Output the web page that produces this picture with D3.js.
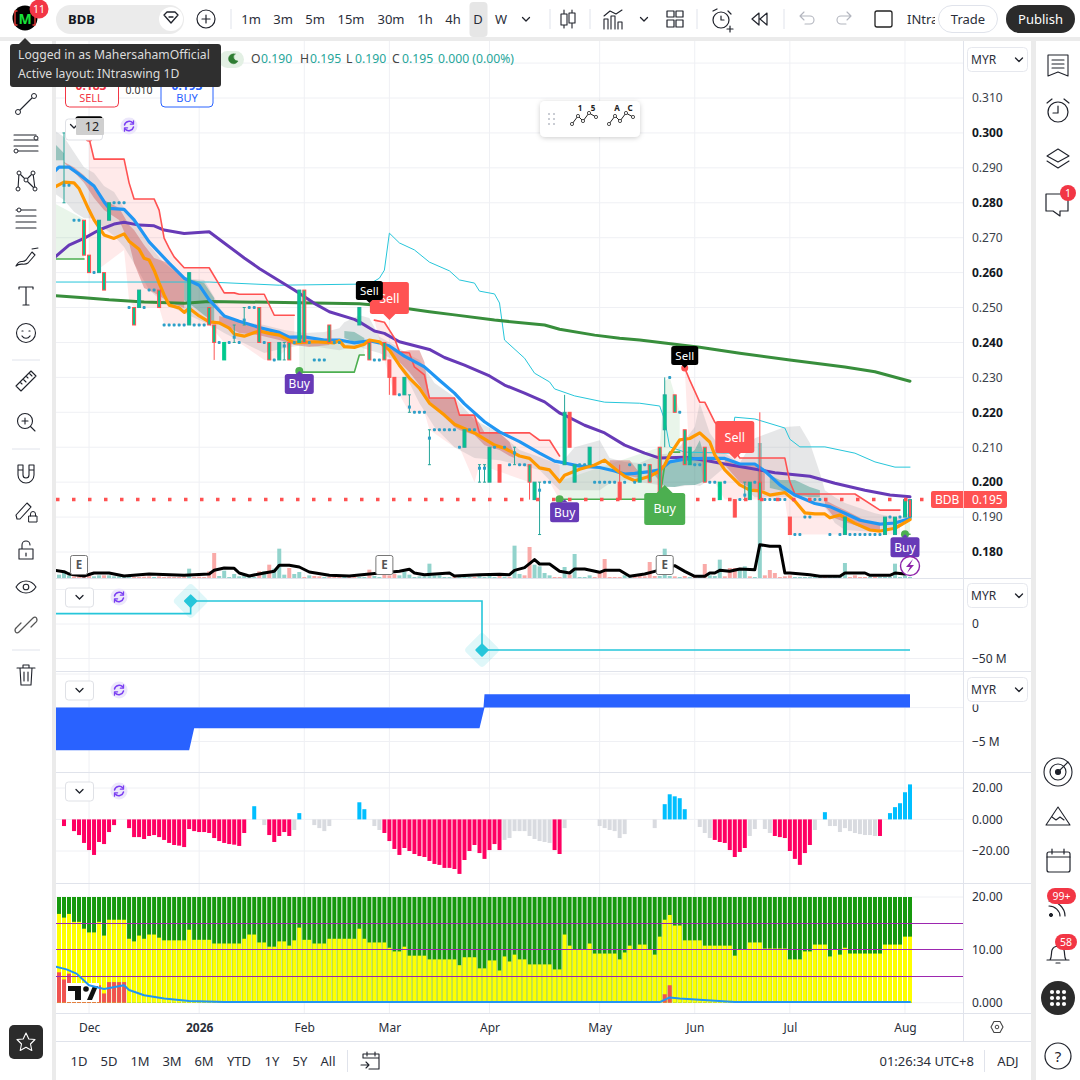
<!DOCTYPE html>
<html>
<head>
<meta charset="utf-8">
<script src="https://cdn.jsdelivr.net/npm/d3@7"></script>
<style>
  html, body { margin: 0; padding: 0; background: #fff; }
  svg { display: block; font-family: "Noto Sans", sans-serif; }
</style>
</head>
<body>
<svg id="chart" width="1080" height="1080"></svg>
<script>
// ---- price candles (bar index counts from the first visible bar)
const candleBars = [1,5,6,8,9,10,15,16,20,26,30,31,33,35,37,40,42,44,45,46,48,49,54,60,62,65,66,67,69,70,74,81,84,85,86,88,91,94,95,96,101,102,103,106,112,116,118,120,121,123,125,126,129,132,135,137,138,140,146,157,165,167,169,170];
const candleOpen = [.285,.275,.265,.26,.26,.275,.25,.25,.255,.245,.25,.245,.235,.2415,.2464,.25,.24,.235,.239,.24,.24,.255,.245,.245,.24,.24,.235,.23,.225,.2215,.2126,.21,.204,.204,.2,.205,.2084,.205,.195,.1977,.205,.22,.2,.205,.2,.2,.205,.21,.215,.225,.215,.205,.21,.195,.195,.1963,.195,.2,.19,.185,.185,.185,.19,.19];
const candleHigh = [.30,.275,.265,.275,.26,.28,.25,.255,.255,.26,.25,.245,.24,.245,.25,.25,.24,.24,.24,.24,.255,.255,.245,.25,.24,.24,.235,.23,.23,.225,.215,.215,.205,.205,.21,.205,.21,.205,.2,.2,.225,.22,.205,.21,.205,.205,.205,.21,.23,.225,.215,.21,.21,.2,.195,.2,.2,.22,.19,.19,.19,.19,.195,.195];
const candleLow = [.28,.265,.26,.26,.255,.275,.245,.25,.25,.245,.245,.235,.235,.24,.245,.24,.235,.235,.235,.235,.24,.24,.24,.245,.235,.235,.225,.225,.225,.22,.205,.21,.2,.2,.2,.2,.205,.195,.195,.185,.205,.21,.2,.205,.195,.2,.2,.195,.21,.22,.205,.205,.2,.195,.19,.195,.195,.195,.185,.185,.185,.185,.19,.19];
const candleClose = [.285,.265,.26,.275,.255,.28,.245,.255,.25,.26,.245,.24,.24,.2415,.2464,.24,.235,.24,.239,.235,.255,.24,.24,.25,.235,.235,.23,.225,.23,.2215,.2126,.215,.204,.204,.21,.2,.2084,.2,.2,.1977,.22,.21,.205,.21,.195,.205,.2,.195,.225,.22,.205,.21,.2,.2,.19,.1963,.2,.195,.185,.19,.19,.19,.195,.195];
const redFillBars = [66,67,88,102,112,135,146,170];
const greenSolidBars = [33,132];

// ---- flat days, only a dot at the price
const dotBars = [2,3,4,7,11,12,13,14,17,18,19,21,22,23,24,25,27,28,29,32,34,36,38,39,41,43,47,50,51,52,53,55,56,63,64,68,71,72,73,75,76,77,78,79,80,82,83,87,89,90,92,93,97,98,100,104,105,107,108,109,110,111,113,114,115,117,119,122,124,127,128,130,131,133,134,136,139,141,142,143,144,145,147,148,149,150,151,152,154,156,158,159,160,161,162,163,164,166,168];
const dotPrices = [.285,.275,.275,.26,.28,.28,.28,.25,.25,.255,.255,.245,.245,.245,.245,.245,.245,.245,.245,.24,.24,.24,.25,.25,.24,.235,.24,.24,.235,.235,.235,.24,.24,.235,.235,.225,.22,.22,.22,.215,.215,.215,.215,.215,.21,.215,.215,.21,.21,.205,.205,.205,.2,.2,.195,.205,.205,.2,.2,.2,.2,.2,.2,.205,.2,.205,.195,.23,.22,.205,.205,.2,.2,.2,.195,.195,.2,.195,.195,.195,.195,.195,.185,.185,.19,.19,.195,.195,.185,.185,.185,.185,.185,.185,.185,.185,.185,.19,.19];

// ---- moving averages
const blueBars = [-1,0,2,4,7,9,10,13,15,18,22,25,28,30,33,36,40,44,46,49,53,56,59,62,64,66,69,73,76,79,81,85,88,92,96,99,101,104,108,111,113,115,118,120,122,125,129,133,136,139,141,144,147,151,154,157,160,164,167,170];
const bluePrice = [.2888,.2902,.2902,.2882,.2848,.2803,.2784,.2781,.2751,.2688,.2627,.2584,.2564,.2522,.2476,.2461,.2443,.2429,.2415,.2416,.2407,.2407,.2399,.2405,.2399,.239,.2361,.233,.2292,.2255,.2224,.2173,.2144,.2116,.2083,.206,.2055,.2046,.2042,.2032,.2023,.2025,.203,.2035,.2058,.2066,.2068,.2068,.2052,.2052,.2032,.1992,.1963,.1939,.193,.1911,.1891,.188,.1883,.1896];
const orangeBars = [-1,1,3,4,6,7,9,11,13,14,16,17,18,19,20,21,22,24,25,26,28,30,32,34,35,37,40,42,44,47,51,55,56,57,59,61,62,64,66,68,70,72,74,77,79,83,87,89,92,94,96,98,100,101,104,107,109,111,113,115,118,120,121,122,124,126,128,130,131,133,136,138,140,142,145,147,149,151,153,154,156,159,162,164,167,170];
const orangePrice = [.2844,.2859,.2857,.2841,.2779,.2751,.2708,.2698,.2711,.269,.2667,.2641,.2636,.2607,.257,.2536,.2507,.2499,.2486,.2498,.2476,.2459,.2456,.2441,.2424,.2418,.2433,.2426,.2421,.2399,.2402,.2399,.2405,.2388,.2386,.2395,.2407,.2402,.2378,.2335,.2298,.2269,.2226,.2192,.2166,.2141,.2106,.2097,.2075,.2068,.2041,.2035,.2001,.202,.2037,.2049,.2063,.2039,.2017,.2004,.2017,.2032,.2049,.2078,.2121,.2125,.2141,.2115,.2078,.2035,.1992,.1977,.1975,.1963,.197,.1946,.1912,.1909,.1909,.1898,.1906,.1882,.1863,.186,.1868,.1893];
const purpleBars = [-1,2,5,8,11,13,16,19,21,25,30,33,37,40,43,47,51,54,59,60,63,65,68,74,77,81,86,89,93,97,100,101,105,109,113,117,120,125,129,133,138,143,150,155,161,166,170];
const purplePrice = [.2642,.2679,.2698,.2722,.2739,.2744,.2736,.2734,.2722,.2712,.2717,.2685,.2642,.2612,.2585,.255,.2512,.2488,.2466,.2459,.2433,.2426,.2402,.238,.2357,.2335,.2304,.2278,.2255,.223,.2198,.2192,.2163,.2141,.2106,.2083,.2069,.2071,.2063,.2052,.204,.2027,.2017,.1997,.1977,.1963,.1958];
const maBars = [-1,5,10,17,25,30,48,60,67,74,79,87,97,100,107,112,116,123,128,136,146,157,163,170];
const maPrice = [.2534,.2528,.2522,.2516,.2512,.2517,.2514,.2511,.2502,.2488,.2479,.2464,.245,.2438,.2421,.2412,.2407,.2395,.2386,.2369,.235,.233,.2316,.2289];
const cyanBars = [-1,30,44,60,62,64,65,66,68,71,74,78,80,83,84,87,88,89,93,95,98,99,103,109,116,120,121,122,125,134,135,139,145,146,148,153,159,163,167,170];
const cyanPrice = [.2573,.2573,.2564,.2567,.2567,.2584,.2607,.2713,.2685,.2665,.263,.2605,.2579,.257,.2547,.2539,.2513,.2407,.2355,.2312,.2287,.2267,.2247,.2229,.2226,.2218,.2178,.2101,.2086,.2083,.2186,.2181,.2155,.2123,.2101,.2101,.2083,.2058,.2043,.2043];

// ---- trailing stops, null breaks the line
const redBars = [6,7,13,14,15,19,20,21,22,23,25,30,33,35,36,41,43,47,null,63,65,67,68,70,71,73,74,79,80,83,84,94,96,98,100,null,125,126,128,129,131,133,135,136,145,146,147,159,164,168];
const redPrice = [.2985,.2925,.2925,.2857,.2811,.2811,.2779,.2699,.267,.2645,.2614,.2614,.2542,.2542,.2538,.2538,.2478,.2478,null,.2464,.2458,.2413,.2373,.237,.233,.2307,.2241,.2241,.2192,.2192,.2141,.2141,.212,.212,.2075,null,.2327,.2292,.2229,.2229,.2172,.2141,.2092,.2069,.2069,.2001,.1966,.1966,.192,.192];
const redLow = [.26,.26,.2665,.2521,.25,.25,.25,.2453,.2453,.2453,.245,.245,.24,.24,.24,.235,.235,.24,null,.2464,.235,.225,.225,.22,.22,.22,.215,.21,.21,.2,.205,.2,.2,.2,.195,null,.2327,.205,.205,.2,.2,.195,.195,.195,.195,.185,.185,.185,.185,.185];
const stopBars = [-1,5,null,48,59,60,61,null,100,120,121,122,124,null,169,170];
const stopPrice = [.2639,.2639,null,.2315,.2315,.2364,.2364,null,.1951,.1951,.2049,.2086,.2086,null,.1851,.1851];
const stopHigh = [.2799,.2753,null,.2399,.2401,.2401,.2401,null,.2003,.21,.229,.23,.22,null,.195,.195];

// ---- clouds round the averages
const greyBars = [-1,1,3,5,7,9,11,13,15,18,21,25,29,31,33,37,41,45,49,53,56,57,60,62,64,67,70,72,75,79,83,88,92,96,100,103,108,110,113,116,120,123,127,128,130,133,136,139,145,148,150,152,153,155,157,163,168,170];
const greyTop = [.3008,.2988,.2945,.2902,.2885,.2848,.2831,.2785,.2745,.2679,.2627,.2584,.2579,.253,.2476,.2458,.245,.2436,.2427,.243,.2441,.2458,.2478,.247,.2416,.2393,.2364,.235,.2284,.2244,.2178,.2141,.2092,.2072,.2049,.21,.212,.2069,.2058,.2055,.208,.2083,.2158,.2226,.2141,.2083,.2055,.2126,.2158,.2161,.2112,.2026,.1977,.1957,.194,.1911,.1897,.1914];
const greyBot = [.2828,.2808,.2774,.2756,.2756,.2728,.2705,.2673,.2627,.255,.2513,.2484,.2458,.2444,.2427,.2398,.237,.2384,.2393,.2384,.2378,.2381,.2387,.2378,.237,.235,.2284,.2226,.2158,.21,.2069,.2063,.2049,.2035,.1977,.1977,.1977,.1997,.2006,.2,.1992,.1986,.1992,.1989,.2006,.2043,.1997,.1957,.1957,.1957,.1951,.1934,.1929,.1883,.1863,.1857,.1871,.1891];
const dropBars = [1,3,5,7,9,12,14,15,17,19,22,25,null,32,36,40,44,47,50,54,null,66,68,70,72,73,74,77,79,80,83,85,88,90,91,null,110,112,114,116,null,133,136,139,141,null,153,155,157,161,164];
const dropTop = [.2917,.2902,.2879,.2845,.2808,.2785,.2736,.2722,.2679,.2642,.2627,.2584,null,.2476,.2461,.2444,.2427,.2413,.2413,.2407,null,.2393,.2373,.2378,.2378,.2344,.2241,.2241,.2241,.2192,.2192,.2143,.2141,.2115,.2078,null,.2063,.2063,.2063,.2026,null,.2069,.2052,.2049,.2029,null,.1949,.1934,.192,.1891,.188];
const dropBot = [.2914,.2888,.2857,.2814,.2779,.2751,.2685,.2627,.2556,.2542,.2516,.2499,null,.2458,.2427,.2421,.2407,.2393,.2387,.2393,null,.2378,.2344,.2315,.2278,.2255,.2226,.2186,.2158,.2149,.2135,.2106,.2092,.2075,.2069,null,.2049,.2026,.2017,.2012,null,.2049,.2,.1977,.1977,null,.1932,.1897,.1886,.1868,.1863];
const riseBars = [-1,1,null,25,27,29,31,null,57,59,61,null,119,121,123,125,127,128,129,null,142,144,147,150,152];
const riseTop = [.2971,.2942,null,.2579,.2579,.257,.2527,null,.2433,.243,.2413,null,.2026,.2049,.2063,.2069,.2092,.212,.2069,null,.202,.2006,.2006,.1986,.1977];
const riseBot = [.2922,.2922,null,.2521,.2501,.2478,.2458,null,.2413,.2401,.2401,null,.202,.1986,.1986,.1992,.1992,.1997,.2003,null,.1983,.1977,.1963,.1957,.1957];

// ---- signal labels, drawn in this order (the black ones sit on top)
const signalBars = [66,135,48,101,169,121,6,62,125];
const signalPrices = [.2464,.2066,.2318,.1951,.1851,.1992,.2985,.2513,.2327];
const signalText = ["Sell","Sell","Buy","Buy","Buy","Buy","","Sell","Sell"];
const signalStyle = ["redBig","redBig","purple","purple","purple","greenBig","black","black","black"];
const sellDotBars = [6,125];
const sellDotPrices = [.2985,.2327];
const buyDotBars = [48,100,121,169];
const buyDotPrices = [.2318,.1951,.1951,.1851];
const earningsBars = [4,65,121];

// ---- volume
const volume = [10,15,8,5,5,5,8,5,8,8,8,5,5,3,3,3,3,4,5,3,5,3,4,3,3,4,28,3,4,3,20,75,6,22,3,12,5,10,3,3,20,20,40,28,88,10,30,12,18,3,8,6,5,3,3,3,3,3,3,3,3,3,25,6,3,10,8,12,8,20,10,3,5,5,43,8,8,3,3,3,3,4,3,3,6,3,10,3,6,4,3,97,12,8,93,40,35,15,8,3,3,33,10,72,3,3,8,3,20,57,3,3,3,8,3,6,6,5,48,6,6,88,6,5,3,6,3,3,3,42,8,6,55,5,30,30,30,35,5,3,405,8,24,15,3,5,8,3,3,3,3,3,3,3,3,3,3,45,3,8,3,3,3,3,3,3,3,43,3,8,3];
const volumeSide = "gggrrrrggrgggggrrrrgrrrrrrgrrrrrggggggggrgrgggrggrgrrgrrrgrrggrggrrrgggggggggggrgggrggggrgrggrrggggrrgrggggrrrrrrggrrrrrgggrgrgrgrgggrrrggrggrrrrrrggggggrggggrrrrgrggggggg";
const volumeAvgBars = [-1,1,2,5,7,10,13,18,25,30,31,33,35,36,38,41,43,44,46,48,50,54,58,62,68,70,71,73,78,79,84,88,90,91,93,95,96,98,100,102,103,105,108,109,112,114,117,119,123,125,127,129,130,131,132,134,136,139,140,142,144,145,146,150,152,156,157,161,162,166,167,169];
const volumeAvg = [23,19,12,6,15,15,6,12,8,12,23,30,29,15,6,15,20,38,38,33,18,8,6,12,20,26,15,10,15,6,10,11,10,23,31,55,42,42,20,15,27,27,17,23,23,5,12,20,37,20,5,5,15,15,23,20,27,25,100,95,95,15,15,10,5,5,15,15,8,8,15,12];

// ---- lower panes
const flowBars = [-1,26.3,84.5,170];
const flowValues = [15,33.3,-37.7,-37.7];
const cashBars = [-1,26,27,84,84.8,85,170];
const cashTop = [0,0,0,0,0,2,2];
const cashBottom = [-6.3,-6.3,-3.06,-3.06,-0.6,0,0];
const momentum = [0,-4.2,0,-7.4,-9.9,-14.9,-19.4,-22.5,-14.3,-15.6,-8,-3.6,0,0,-5.5,-11.2,-11.2,-12.4,-10.5,-9.9,-11.2,-13,-14.9,-16.2,-16.6,-17.5,-6.1,-7.4,-8,-8,-8.6,-11.8,-13.7,-14.9,-15.6,-16,-16.8,-8.6,0,8.4,0,-3.6,-9.9,-14.3,-10.5,-8,-10.5,-6.7,4,0,0,-3.6,-5.5,-7.4,-4.2,0,0,0,0,0,10.9,6.5,0,-4.2,-6.7,-8.6,-13.7,-18.7,-22.5,-18.1,-20,-21.9,-23.2,-23.8,-26.3,-28.2,-28.8,-30.7,-30.7,-31.4,-34.5,-25.7,-20,-16.2,-21.3,-25,-19.4,-15.6,-19.4,-13,-11.8,-7.4,-7.4,-7.4,-10.5,-12.4,-13.7,-14.3,-14.9,-19.4,-21.9,-5.5,0,0,0,0,0,0,-4.2,-5.5,-6.7,-7.4,-11.8,-9.3,0,0,0,0,0,-5.5,0,9.7,16,14.7,13.5,6.5,0,0,-4.8,-8.6,-11.8,-13,-14.3,-14.9,-19.4,-23.8,-20.6,-18.1,-10.5,-6.1,0,-6.1,-8.6,-10.5,-11.2,-11.8,-20,-25,-28.8,-21.3,-16.2,-6.7,0,4.6,-4.2,-4.2,-8,-5.5,-7.4,-8.6,-9.3,-9.9,-9.9,-10.5,-10.5,0,4,7.8,10.3,17.3,22.3];
const momentumGrey = [41,47,51,52,53,54,63,64,89,90,91,92,93,94,95,96,97,98,101,108,109,110,111,112,113,119,128,129,130,138,139,141,142,151,154,155,156,157,158,159,160,161,162,163];
const powerTotal = 20;
const powerYellow = [16.8,16.1,16.8,15.3,15.3,14,13.3,13.3,15.3,12.7,15.7,15.7,15.7,15.7,12.1,11.6,12.7,12.1,12.9,12.9,12.3,11.8,11.8,11.8,11.8,11.8,13.8,11.9,11.9,11.9,11.9,11.2,11.2,11.2,11.2,11.2,11.2,12.1,12.9,12.9,11.4,11.4,10.6,10.6,11.6,11.6,10.8,11.8,14.2,11.9,11.9,11.2,11.2,11.2,12.1,12.1,12.1,12.1,12.1,12.1,14,12.1,11.4,11.4,11.4,11.4,10.4,9.7,9.7,10.6,8.9,8.9,8.9,8.9,8.2,8.2,8.2,8.2,8.2,8.2,7.1,8.6,8.6,8.6,6.5,6.5,8,8,6.1,8.75,7.8,9.1,8.2,8.2,7.25,7.25,7.25,7.25,7.25,6.3,6.3,12.9,10.8,10.1,10.1,10.1,11.2,9.3,9.3,9.3,9.3,9.3,8.2,9.5,10.8,10.1,11,11,10.1,9.1,12.5,15.7,16.6,14.6,14.6,11.8,11.8,11.8,11.8,10.8,10.8,10.8,10.8,10.8,10.8,8.9,10.1,10.1,11.4,11.4,11.4,10.25,10.25,10.25,10.25,10.25,8.2,8.2,8.2,9.7,9.7,11,11,11,8.75,10.1,9.1,10.4,9.3,9.3,9.3,9.3,9.3,9.3,9.3,11,11,11,11,12.5,12.5];
const powerRedBars = [0,1,2,3,4,5,6,7,8,9,10,11,12,13,121,122];
const powerRed = [5.75,4.4,5.5,2,.4,.4,.3,.3,3.3,1.75,3.9,3.9,3.9,3.9,1.6,3.3];
const powerLineBars = [-1,1.5,3.5,6,9,13,14,17,21,26,33,120,122,124,135,170];
const powerLine = [6.9,6.3,5.5,3.3,2.6,3.3,2.4,1.4,.8,.3,.12,.12,1,.8,.15,.12];
const powerLevels = [15,10,5];

// ---- axis labels
const priceTicks = [.31,.30,.29,.28,.27,.26,.25,.24,.23,.22,.21,.20,.19,.18];
const gridPrices = [.32,.31,.30,.29,.28,.27,.26,.25,.24,.23,.22,.21,.20,.19,.18];
const timeBars = [6,28,49,66,86,108,127,146,169];
const timeLabels = ["Dec","2026","Feb","Mar","Apr","May","Jun","Jul","Aug"];
const intervals = ["1m","3m","5m","15m","30m","1h","4h","D","W"];
const intervalX = [251,283,315,351,391,425,453,478,501];
const ranges = ["1D","5D","1M","3M","6M","YTD","1Y","5Y","All"];
const rangeX = [79,109,140,172,204,239,272,300,328];
const lastPrice = 0.195;

const svg = d3.select("#chart");
const gridColor = "#eff0f4";
const lineColor = "#e0e3eb";
const gapColor = "#ebebeb";

const x = d3.scaleLinear().domain([0, 170]).range([59, 910]);
const y = d3.scaleLinear().domain([0.18, 0.31]).range([552, 98]);
const volY = d3.scaleLinear().domain([0, 405]).range([578, 443]);
const flowY = d3.scaleLinear().domain([0, -50]).range([624, 658.5]);
const cashY = d3.scaleLinear().domain([5, 0, -5]).range([674, 707.6, 741.5]);
const momY = d3.scaleLinear().domain([20, 0, -20]).range([788, 819.4, 851]);
const powY = d3.scaleLinear().domain([0, 20]).range([1002.7, 897]);

const zip = (bars, ...cols) => bars.map((b, k) => [b, ...cols.map((c) => c[k])]);
const lineOf = (scale) => d3.line().defined((d) => d[0] !== null).x((d) => x(d[0])).y((d) => scale(d[1]));
const areaOf = (scale) =>
    d3.area().defined((d) => d[0] !== null).x((d) => x(d[0])).y0((d) => scale(d[2])).y1((d) => scale(d[1]));

// clip so nothing runs out of the plot area
const defs = svg.append("defs");
defs.append("clipPath").attr("id", "plot").append("rect").attr("x", 56).attr("y", 41).attr("width", 907).attr("height", 537);
defs.append("clipPath").attr("id", "plot2").append("rect").attr("x", 56).attr("y", 580).attr("width", 907).attr("height", 430);
defs.append("clipPath").attr("id", "intra").append("rect").attr("x", 905).attr("y", 5).attr("width", 30).attr("height", 30);
const blur = defs.append("filter").attr("id", "soft").attr("x", "-20%").attr("y", "-30%").attr("width", "140%").attr("height", "170%");
blur.append("feDropShadow").attr("dx", 0).attr("dy", 1).attr("stdDeviation", 2.5).attr("flood-color", "#000").attr("flood-opacity", 0.2);

// ---- grids
const grid = svg.append("g");
timeBars.forEach((b) => {
    grid.append("line").attr("x1", x(b)).attr("x2", x(b)).attr("y1", 41).attr("y2", 1013).attr("stroke", gridColor);
});
gridPrices.forEach((p) => {
    grid.append("line").attr("x1", 56).attr("x2", 963).attr("y1", y(p)).attr("y2", y(p)).attr("stroke", gridColor);
});
[[flowY, [50, 0, -50]], [cashY, [5, 0, -5]], [momY, [20, 0, -20]], [powY, [20, 0]]].forEach(([scale, vals]) => {
    vals.forEach((v) => {
        grid.append("line").attr("x1", 56).attr("x2", 963).attr("y1", scale(v)).attr("y2", scale(v)).attr("stroke", gridColor);
    });
});

// ---- main pane
const main = svg.append("g").attr("clip-path", "url(#plot)");

main.selectAll(".vol").data(volume).join("rect")
    .attr("x", (d, i) => x(i) - 2).attr("width", 4)
    .attr("y", (d) => volY(d)).attr("height", (d) => 578 - volY(d))
    .attr("fill", (d, i) => (volumeSide[i] === "r" ? "#f9aaa8" : "#92d3cc"));

main.append("path").datum(zip(redBars, redPrice, redLow)).attr("d", areaOf(y)).attr("fill", "#ff5252").attr("opacity", 0.12);
main.append("path").datum(zip(stopBars, stopHigh, stopPrice)).attr("d", areaOf(y)).attr("fill", "#4caf50").attr("opacity", 0.12);
main.append("path").datum(zip(greyBars, greyTop, greyBot)).attr("d", areaOf(y)).attr("fill", "#8f9295").attr("opacity", 0.22);
main.append("path").datum(zip(dropBars, dropTop, dropBot)).attr("d", areaOf(y)).attr("fill", "#c94f4f").attr("opacity", 0.4);
main.append("path").datum(zip(riseBars, riseTop, riseBot)).attr("d", areaOf(y)).attr("fill", "#2f9384").attr("opacity", 0.42);

const drawLine = (bars, vals, color, width, scale = y, parent = main) =>
    parent.append("path").datum(zip(bars, vals)).attr("d", lineOf(scale))
        .attr("fill", "none").attr("stroke", color).attr("stroke-width", width)
        .attr("stroke-linejoin", "round").attr("stroke-linecap", "round");

drawLine(cyanBars, cyanPrice, "#26c6da", 1);
drawLine(maBars, maPrice, "#388e3c", 3);
drawLine(purpleBars, purplePrice, "#673ab7", 3);
drawLine(redBars, redPrice, "#ff5252", 1.6);
drawLine(stopBars, stopPrice, "#4caf50", 1.6);
drawLine(blueBars, bluePrice, "#2196f3", 3.2);
drawLine(orangeBars, orangePrice, "#ff9800", 3.2);
drawLine(volumeAvgBars, volumeAvg, "#000", 3, volY);

// ---- candles
const candles = candleBars.map((b, k) => ({
    b, o: candleOpen[k], h: candleHigh[k], l: candleLow[k], c: candleClose[k],
}));
candles.forEach((d) => {
    const up = d.c >= d.o;
    const edge = up ? "#26a69a" : "#ff5252";
    const doji = d.o === d.c;
    const wick = doji ? "#26a69a" : edge;
    main.append("line").attr("x1", x(d.b)).attr("x2", x(d.b)).attr("y1", y(d.h)).attr("y2", y(d.l)).attr("stroke", wick).attr("stroke-width", 1);
    if (doji) {
        [d.h, d.l].forEach((v) => {
            main.append("line").attr("x1", x(d.b) - 1.5).attr("x2", x(d.b) + 1.5).attr("y1", y(v)).attr("y2", y(v)).attr("stroke", wick);
        });
        main.append("rect").attr("x", x(d.b) - 1.5).attr("y", y(d.o) - 1.5).attr("width", 3).attr("height", 3).attr("fill", "#2e9fc8");
        return;
    }
    const solidRed = redFillBars.includes(d.b);
    main.append("rect")
        .attr("x", x(d.b) - 1.5).attr("width", 3)
        .attr("y", y(Math.max(d.o, d.c))).attr("height", Math.abs(y(d.o) - y(d.c)))
        .attr("fill", solidRed ? "#ff5252" : "#00c98d")
        .attr("stroke", greenSolidBars.includes(d.b) ? "#00c98d" : solidRed && !up ? "#ff5252" : edge)
        .attr("stroke-width", 1);
});
main.selectAll(".dot").data(zip(dotBars, dotPrices)).join("rect")
    .attr("x", (d) => x(d[0]) - 1.5).attr("y", (d) => y(d[1]) - 1.5)
    .attr("width", 3).attr("height", 3).attr("rx", 1).attr("fill", "#2e9fc8");

// last price, dotted
main.append("line").attr("x1", 56).attr("x2", 930).attr("y1", y(lastPrice)).attr("y2", y(lastPrice))
    .attr("stroke", "#ff5252").attr("stroke-width", 3.5).attr("stroke-dasharray", "3.5 12.5");

// ---- signal dots and labels
main.selectAll(".sd").data(zip(sellDotBars, sellDotPrices)).join("circle")
    .attr("cx", (d) => x(d[0])).attr("cy", (d) => y(d[1])).attr("r", 3.5).attr("fill", "#ff5252");
main.selectAll(".bd").data(zip(buyDotBars, buyDotPrices)).join("circle")
    .attr("cx", (d) => x(d[0])).attr("cy", (d) => y(d[1])).attr("r", 4).attr("fill", "#4caf50");

const labelStyles = {
    black: { fill: "#000", w: 27, h: 19, fs: 11.5, down: true, gap: 3 },
    redBig: { fill: "#ff5252", w: 39, h: 32, fs: 12.5, down: true, gap: 6 },
    purple: { fill: "#673ab7", w: 29, h: 20, fs: 12, down: false, gap: 3 },
    greenBig: { fill: "#4caf50", w: 41, h: 32, fs: 12.5, down: false, gap: 8 },
};
signalBars.forEach((b, k) => {
    const s = labelStyles[signalStyle[k]];
    const tipX = x(b), tipY = y(signalPrices[k]);
    const top = s.down ? tipY - s.gap - s.h : tipY + s.gap;
    const g = main.append("g");
    g.append("rect").attr("x", tipX - s.w / 2).attr("y", top).attr("width", s.w).attr("height", s.h).attr("rx", 2.5).attr("fill", s.fill);
    const base = s.down ? top + s.h : top;
    g.append("path").attr("d", `M${tipX - s.gap},${base}L${tipX},${tipY}L${tipX + s.gap},${base}Z`).attr("fill", s.fill);
    if (signalText[k]) {
        g.append("text").attr("x", tipX).attr("y", top + s.h / 2 + s.fs * 0.36).attr("text-anchor", "middle")
            .attr("font-size", s.fs).attr("fill", "#fff").text(signalText[k]);
    }
});

// earnings flags
earningsBars.forEach((b) => {
    main.append("rect").attr("x", x(b) - 8.5).attr("y", 555.5).attr("width", 17).attr("height", 19).attr("rx", 2)
        .attr("fill", "#fff").attr("stroke", "#777").attr("stroke-width", 1);
    main.append("text").attr("x", x(b)).attr("y", 569).attr("text-anchor", "middle").attr("font-size", 11.5)
        .attr("font-weight", 700).attr("fill", "#555").text("E");
});
main.append("circle").attr("cx", x(170)).attr("cy", 566).attr("r", 9.5).attr("fill", "#fff").attr("stroke", "#8e24aa").attr("stroke-width", 1.4);
main.append("path").attr("d", `M${x(170) + 3},559 L${x(170) - 4},567 H${x(170)} L${x(170) - 3},573 L${x(170) + 4},565 H${x(170)}Z`).attr("fill", "#8e24aa");

// ---- pane: flow line with its two turning points
const flowPts = [[flowBars[0], flowValues[0]], [flowBars[1], flowValues[0]], [flowBars[1], flowValues[1]],
    [flowBars[2], flowValues[1]], [flowBars[2], flowValues[2]], [flowBars[3], flowValues[3]]];
svg.append("path").datum(flowPts).attr("clip-path", "url(#plot2)").attr("d", lineOf(flowY))
    .attr("fill", "none").attr("stroke", "#26c6da").attr("stroke-width", 1.6);
[[flowBars[1], flowValues[1]], [flowBars[2], flowValues[2]]].forEach(([b, v]) => {
    const cx = x(b), cy = flowY(v);
    svg.append("rect").attr("x", cx - 13).attr("y", cy - 13).attr("width", 26).attr("height", 26).attr("rx", 4)
        .attr("transform", `rotate(45 ${cx} ${cy})`).attr("fill", "#26c6da").attr("opacity", 0.15);
    svg.append("rect").attr("x", cx - 5).attr("y", cy - 5).attr("width", 10).attr("height", 10).attr("rx", 1)
        .attr("transform", `rotate(45 ${cx} ${cy})`).attr("fill", "#26c6da");
});

// ---- pane: blue block
svg.append("path").datum(zip(cashBars, cashTop, cashBottom)).attr("clip-path", "url(#plot2)")
    .attr("d", areaOf(cashY)).attr("fill", "#2962ff");

// ---- pane: momentum histogram
svg.append("g").selectAll("rect").data(momentum).join("rect")
    .attr("x", (d, i) => x(i) - 2).attr("width", 4)
    .attr("y", (d) => momY(Math.max(d, 0)))
    .attr("height", (d) => Math.abs(momY(d) - momY(0)))
    .attr("fill", (d, i) => (d > 0 ? "#00bfff" : momentumGrey.includes(i) ? "#d9dbe0" : "#ff0062"));

// ---- pane: stacked power bars
const powG = svg.append("g");
powG.selectAll(".tot").data(powerYellow).join("rect")
    .attr("x", (d, i) => x(i) - 2).attr("width", 4)
    .attr("y", powY(powerTotal)).attr("height", powY(0) - powY(powerTotal)).attr("fill", "#16990d");
powG.selectAll(".yel").data(powerYellow).join("rect")
    .attr("x", (d, i) => x(i) - 2).attr("width", 4)
    .attr("y", (d) => powY(d)).attr("height", (d) => powY(0) - powY(d)).attr("fill", "#ffff00");
powG.selectAll(".red").data(zip(powerRedBars, powerRed)).join("rect")
    .attr("x", (d) => x(d[0]) - 2).attr("width", 4)
    .attr("y", (d) => powY(d[1])).attr("height", (d) => powY(0) - powY(d[1])).attr("fill", "#f05350");
powerLevels.forEach((v) => {
    powG.append("line").attr("x1", 56).attr("x2", 963).attr("y1", powY(v)).attr("y2", powY(v))
        .attr("stroke", "#9c27b0").attr("stroke-width", 1).attr("shape-rendering", "crispEdges");
});
// chart watermark
powG.append("rect").attr("x", 67).attr("y", 983).attr("width", 32).attr("height", 19).attr("fill", "#fff");
powG.append("path").attr("d", "M68,986H81V1000H75V991H68Z M87,1000L93,986H98L92,1000Z").attr("fill", "#111");
powG.append("circle").attr("cx", 86).attr("cy", 989).attr("r", 2.8).attr("fill", "#111");
drawLine(powerLineBars, powerLine, "#2196f3", 2, powY, powG);

// ---- frames and gaps
const frame = svg.append("g");
frame.append("rect").attr("x", 0).attr("y", 37).attr("width", 1080).attr("height", 4).attr("fill", gapColor);
frame.append("rect").attr("x", 52).attr("y", 41).attr("width", 4).attr("height", 1039).attr("fill", gapColor);
frame.append("rect").attr("x", 1031).attr("y", 41).attr("width", 5).attr("height", 1039).attr("fill", gapColor);
frame.append("line").attr("x1", 963.5).attr("x2", 963.5).attr("y1", 41).attr("y2", 1041).attr("stroke", lineColor);
[578.5, 671.5, 772.5, 883.5, 1013.5, 1041.5].forEach((v) => {
    frame.append("line").attr("x1", 56).attr("x2", 1031).attr("y1", v).attr("y2", v).attr("stroke", lineColor);
});

// ---- axes
const styleAxis = (g) => {
    g.select(".domain").remove();
    g.selectAll("line").remove();
    g.selectAll("text").attr("font-size", 12).attr("fill", "#2a2e39").attr("font-family", "'Noto Sans', sans-serif");
};
const rightAxis = (scale, vals, fmt) =>
    svg.append("g").attr("transform", "translate(963,0)")
        .call(d3.axisRight(scale).tickValues(vals).tickFormat(fmt).tickSize(0).tickPadding(9))
        .call(styleAxis);

rightAxis(y, priceTicks, d3.format(".3f")).selectAll("text")
    .attr("font-weight", (d) => (Math.round(d * 100) % 2 === 0 ? 700 : 400))
    .attr("fill", (d) => (Math.round(d * 100) % 2 === 0 ? "#131722" : "#3b3f4a"));
rightAxis(flowY, [0, -50], (d) => (d === 0 ? "0" : "\u221250 M"));
rightAxis(cashY, [0, -5], (d) => (d === 0 ? "0" : "\u22125 M"));
rightAxis(momY, [20, 0, -20], (d) => (d === 0 ? "0.000" : d > 0 ? "20.00" : "\u221220.00"));
rightAxis(powY, [20, 10, 0], (d) => (d === 0 ? "0.000" : d3.format(".2f")(d)));

svg.append("g").attr("transform", "translate(0,1013)")
    .call(d3.axisBottom(x).tickValues(timeBars).tickFormat((d, i) => timeLabels[i]).tickSize(0).tickPadding(10))
    .call(styleAxis)
    .selectAll("text").attr("font-weight", (d, i) => (i === 1 ? 700 : 400));

// last price tag
svg.append("rect").attr("x", 931).attr("y", 491).attr("width", 76).attr("height", 17).attr("rx", 2).attr("fill", "#ff5252");
svg.append("line").attr("x1", 963.5).attr("x2", 963.5).attr("y1", 491).attr("y2", 508).attr("stroke", "#fff").attr("stroke-opacity", 0.6);
svg.append("text").attr("x", 935).attr("y", 504).attr("font-size", 12).attr("fill", "#fff").text("BDB");
svg.append("text").attr("x", 972).attr("y", 504).attr("font-size", 12).attr("fill", "#fff").text(d3.format(".3f")(lastPrice));

// ---- little widgets
const label = (px, py, txt, size = 13, color = "#1f222b", anchor = "start", weight = 400) =>
    svg.append("text").attr("x", px).attr("y", py).attr("font-size", size).attr("fill", color)
        .attr("text-anchor", anchor).attr("font-weight", weight).text(txt);
const icon = (px, py, d, sw = 1.2, color = "#1f222b", fill = "none") =>
    svg.append("path").attr("transform", `translate(${px},${py})`).attr("d", d).attr("fill", fill)
        .attr("stroke", color).attr("stroke-width", sw).attr("stroke-linejoin", "round").attr("stroke-linecap", "round");
const ring = (px, py, r, sw = 1.2, color = "#1f222b", fill = "#fff") =>
    svg.append("circle").attr("cx", px).attr("cy", py).attr("r", r).attr("fill", fill).attr("stroke", color).attr("stroke-width", sw);
const chevron = (px, py, color = "#1f222b") => icon(px, py, "M-3.5,-1.5L0,2L3.5,-1.5", 1.3, color);

const chip = (py) => {
    svg.append("rect").attr("x", 964).attr("y", py - 2).attr("width", 66).attr("height", 29).attr("fill", "#fff");
    svg.append("rect").attr("x", 967.5).attr("y", py).attr("width", 60).attr("height", 24).attr("rx", 4)
        .attr("fill", "#fff").attr("stroke", "#e6e8ee");
    label(971, py + 16.5, "MYR", 12, "#2a2e39");
    chevron(1019, py + 12);
};
chip(47.5);
chip(583.5);
chip(677.5);

const syncIcon = (px, py) => {
    ring(px, py, 8.5, 0, "none", "#ece7fb");
    icon(px, py, "M-4.5,-1A4.8,4.8 0 0 1 3.8,-3 M4.5,1A4.8,4.8 0 0 1 -3.8,3", 1.5, "#7b3ff2");
    icon(px, py, "M4.5,-5.2V-1.8H1.4 M-4.5,5.2V1.8H-1.4", 1.3, "#7b3ff2");
};
[597, 690, 791].forEach((py) => {
    svg.append("rect").attr("x", 65.5).attr("y", py - 9).attr("width", 28).attr("height", 19).attr("rx", 3)
        .attr("fill", "#fff").attr("stroke", "#dfe1e6");
    chevron(79.5, py);
    syncIcon(119, py);
});

// pane legend on the main chart
svg.append("rect").attr("x", 65.5).attr("y", 119).attr("width", 37).attr("height", 21).attr("rx", 3).attr("fill", "#fff").attr("stroke", "#dfe1e6");
chevron(74, 126);
svg.append("rect").attr("x", 76).attr("y", 118).attr("width", 28).attr("height", 17).attr("rx", 1).attr("fill", "#cfcfcf");
label(92, 131, "12", 12.5, "#222", "middle");
syncIcon(129, 126);

// buy and sell buttons, the login note sits over them
svg.append("rect").attr("x", 65.5).attr("y", 70).attr("width", 53).attr("height", 37).attr("rx", 4).attr("fill", "#fff").attr("stroke", "#f23645");
svg.append("rect").attr("x", 161).attr("y", 70).attr("width", 52).attr("height", 37).attr("rx", 4).attr("fill", "#fff").attr("stroke", "#2962ff");
label(91, 90, "0.183", 12, "#f23645", "middle", 700);
label(187, 90, "0.193", 12, "#2962ff", "middle", 700);
label(91, 102, "SELL", 11, "#f23645", "middle");
label(187, 102, "BUY", 11, "#2962ff", "middle");
label(139, 94, "0.010", 10.5, "#333", "middle");

// ohlc strip
svg.append("rect").attr("x", 219).attr("y", 51).attr("width", 25).attr("height", 17).attr("rx", 8.5).attr("fill", "#e3f0e4");
icon(233, 59, "M2,-5A5,5 0 1 0 5,2A4,4 0 0 1 2,-5Z", 0.5, "#2e7d32", "#2e7d32");
const ohlcLabels = ["O", "H", "L", "C"];
const ohlcValues = [0.190, 0.195, 0.190, 0.195];
const ohlcX = [251, 300, 346, 392];
ohlcLabels.forEach((t, k) => {
    label(ohlcX[k], 63, t, 12.2, "#444");
    label(ohlcX[k] + (t === "L" ? 9 : 10), 63, d3.format(".3f")(ohlcValues[k]), 12.2, "#26a69a");
});
label(438, 63, "0.000 (0.00%)", 12.2, "#26a69a");

// floating wave widget
svg.append("rect").attr("x", 540).attr("y", 101).attr("width", 100).attr("height", 36).attr("rx", 5).attr("fill", "#fff").attr("filter", "url(#soft)");
[[549, 114], [554, 114], [549, 119], [554, 119], [549, 124], [554, 124]].forEach(([a, b]) => {
    svg.append("circle").attr("cx", a).attr("cy", b).attr("r", 1).attr("fill", "#b8bcc6");
});
[572, 609].forEach((ox, k) => {
    svg.append("path").attr("transform", `translate(${ox},0)`).attr("d", "M0,124L6,116L11,121L17,113L24,117").attr("fill", "none").attr("stroke", "#222");
    [[0, 124], [6, 116], [11, 121], [17, 113], [24, 117]].forEach(([a, b]) => {
        svg.append("circle").attr("cx", ox + a).attr("cy", b).attr("r", 1.6).attr("fill", "#fff").attr("stroke", "#222").attr("stroke-width", 0.8);
    });
    label(ox + 8, 111, k === 0 ? "1" : "A", 8, "#222", "middle", 700);
    label(ox + 21, 111, k === 0 ? "5" : "C", 8, "#222", "middle", 700);
});

// ---- top bar
svg.append("rect").attr("x", 0).attr("y", 0).attr("width", 1080).attr("height", 37).attr("fill", "#fff");
ring(25, 18, 12.5, 0, "none", "#000");
label(25, 24, "M", 14, "#19e03a", "middle", 700);
icon(25, 18, "M-8,-7H-10V7H-8 M8,-7H10V7H8", 1.4, "#e53935");
ring(39, 9, 9.5, 0, "none", "#f23645");
label(39, 13, "11", 10.5, "#fff", "middle");
svg.append("rect").attr("x", 56).attr("y", 5).attr("width", 128).attr("height", 29).attr("rx", 14.5).attr("fill", "#ebebeb");
label(68, 24, "BDB", 13, "#131722", "start", 700);
ring(171, 19, 12, 0, "none", "#fff");
icon(171, 18, "M-7,-3L-4,-6H4L7,-3L0,5Z M-2,-1H2", 1.3);
ring(206, 19, 9, 1.2);
icon(206, 19, "M-4,0H4M0,-4V4", 1.2);
[231, 550, 590, 697, 784].forEach((v) => {
    svg.append("line").attr("x1", v).attr("x2", v).attr("y1", 9).attr("y2", 29).attr("stroke", "#e0e3eb");
});
svg.append("rect").attr("x", 469.5).attr("y", 2).attr("width", 18).attr("height", 35).attr("rx", 4).attr("fill", "#e6e6e6");
intervals.forEach((t, k) => label(intervalX[k], 24, t, 13, "#2a2e39", "middle"));
chevron(526, 19);
icon(568, 19, "M-4,-9V9 M4,-9V9", 1.1);
icon(568, 19, "M-7,-5H-1V6H-7Z M1,-6H7V4H1Z", 1.1, "#1f222b", "#fff");
icon(613, 20, "M-9,9V-1H-5V9 M-2,9V-4H2V9 M5,9V2H9V9 M-9,-4L-3,-9L3,-6L9,-10", 1.1);
chevron(644, 19);
icon(675, 19, "M-8,-8H-1V-2H-8Z M1,-8H8V-2H1Z M-8,1H-1V8H-8Z M1,1H8V8H1Z", 1.2);
ring(721, 20, 8, 1.2);
icon(721, 20, "M0,-4V0H3 M-8,-9L-4,-11 M7,-9L10,-6 M9,6V12 M6,9H12", 1.2);
icon(760, 19, "M-1,-6L-8,0L-1,6Z M7,-6L0,0L7,6Z", 1.2);
icon(807, 19, "M-6,-3H3A4,4 0 0 1 3,5H-2 M-3,-7L-7,-3L-3,1", 1.1, "#b2b5be");
icon(844, 19, "M6,-3H-3A4,4 0 0 0 -3,5H2 M3,-7L7,-3L3,1", 1.1, "#b2b5be");
svg.append("rect").attr("x", 875).attr("y", 11).attr("width", 17).attr("height", 16).attr("rx", 2).attr("fill", "#fff").attr("stroke", "#222").attr("stroke-width", 1.3);
label(907, 24, "INtra", 13, "#2a2e39").attr("clip-path", "url(#intra)");
svg.append("rect").attr("x", 938.5).attr("y", 5.5).attr("width", 59).attr("height", 27).attr("rx", 13.5).attr("fill", "#fff").attr("stroke", "#e0e3eb");
label(968, 24, "Trade", 13, "#2a2e39", "middle");
svg.append("rect").attr("x", 1006).attr("y", 5).attr("width", 69).attr("height", 28).attr("rx", 14).attr("fill", "#2b2b2b");
label(1040.5, 24, "Publish", 13, "#fff", "middle");

// login note
svg.append("path").attr("d", "M19,44L25,38L31,44Z").attr("fill", "#2f2f2f");
svg.append("rect").attr("x", 10).attr("y", 44).attr("width", 211).attr("height", 43).attr("rx", 3).attr("fill", "#2f2f2f");
label(18, 59, "Logged in as MahersahamOfficial", 12.2, "#dcdcdc");
label(18, 78, "Active layout: INtraswing 1D", 12.2, "#dcdcdc");

// ---- left toolbar
icon(26, 104, "M-8,8L8,-8", 1.1);
ring(18, 112, 2.5, 1);
ring(34, 96, 2.5, 1);
icon(26, 143, "M-12,-8H10 M-12,-3H12 M-12,3H12 M-10,8H12", 1.1);
ring(36, 138, 2, 1);
ring(16, 151, 2, 1);
icon(26, 181, "M-8,8L-7,-8L0,-1L7,-8L9,8 M-7,-8L9,8", 1.1);
[[18, 189], [19, 173], [26, 180], [33, 173], [35, 189]].forEach(([a, b]) => ring(a, b, 2, 1));
icon(26, 219, "M-10,-9H10 M-10,-3H10 M-10,3H10 M-10,9H10", 1.1);
ring(19, 210, 2, 1);
icon(26, 258, "M-10,8C-6,0 -4,6 0,2L6,-6L9,-3L2,5C-2,8 -6,4 -10,8 M6,-9L12,-10", 1.1);
icon(26, 296, "M-7,-7V-9H7V-7 M0,-9V9 M-3,9H3", 1.2);
ring(26, 333, 9.5, 1.1);
icon(26, 333, "M-4,-2H-3 M3,-2H4 M-4,3C-2,6 2,6 4,3", 1.2);
[360, 449, 650].forEach((v) => {
    svg.append("line").attr("x1", 12).attr("x2", 40).attr("y1", v).attr("y2", v).attr("stroke", "#e0e3eb");
});
icon(26, 381, "M-10,5L5,-10L10,-5L-5,10Z M-6,1L-4,3 M-3,-2L0,1 M0,-5L2,-3 M3,-8L6,-5", 1.1);
ring(25, 421, 7.5, 1.1);
icon(25, 421, "M-3,0H3M0,-3V3M5.5,5.5L10,10", 1.1);
icon(26, 473, "M-8,-8V2A8,8 0 0 0 8,2V-8H3V2A3,3 0 0 1 -3,2V-8Z M-8,-3H-3 M3,-3H8", 1.1);
icon(24, 511, "M-7,8L-8,4L3,-8L7,-4L-4,8Z", 1.1);
icon(32, 516, "M-3,0H5V6H-3Z M-1.5,0V-2A2.5,2.5 0 0 1 3.5,-2V0", 1);
icon(26, 550, "M-7,-1H7V9H-7Z M-4,-1V-5A4,4 0 0 1 4,-5", 1.1);
icon(26, 550, "M0,3V6", 1.2);
icon(26, 587, "M-10,0C-5,-8 5,-8 10,0C5,8 -5,8 -10,0Z", 1.1);
ring(26, 587, 2.8, 1.1);
icon(26, 625, "M-2,2L-7,7C-10,10 -13,5 -9,2L-5,-2 M2,-2L7,-7C10,-10 13,-5 9,-2L5,2 M-3,3L3,-3", 1.2, "#555");
icon(26, 675, "M-9,-7H9 M-6,-7L-5,10H5L6,-7 M-3,-7V-10H3V-7 M-2,-3V6 M2,-3V6", 1.1);
svg.append("rect").attr("x", 9).attr("y", 1025).attr("width", 34).attr("height", 34).attr("rx", 5).attr("fill", "#2b2b2b");
icon(26, 1042, "M0,-9L2.8,-3L9,-2.5L4.5,2L5.8,8.5L0,5.2L-5.8,8.5L-4.5,2L-9,-2.5L-2.8,-3Z", 1.1, "#fff");

// ---- right toolbar
icon(1058, 66, "M-10,-11H10V10L0,6L-10,10Z M-6,-6H6 M-6,-2H6 M-6,2H6", 1.1);
ring(1058, 112, 10, 1.2);
icon(1058, 112, "M0,-6V1H-5 M-11,-9L-6,-13 M11,-9L6,-13", 1.2);
icon(1058, 157, "M0,-8L11,-1L0,5L-11,-1Z M-11,4L0,11L11,4", 1.1);
icon(1058, 204, "M-12,-10H10V7H2V12L-5,7H-12Z", 1.2);
ring(1068, 193, 8, 0, "none", "#f23645");
label(1068, 197, "1", 10.5, "#fff", "middle");
ring(1058, 772, 14, 1.1);
ring(1058, 772, 8, 1.1);
ring(1058, 772, 2.5, 1.1, "#1f222b", "#1f222b");
icon(1058, 772, "M0,0L10,-10", 1.1);
icon(1058, 816, "M-12,9L0,-9L12,9Z M-6,1L-2,4L2,1L6,4", 1.1);
svg.append("rect").attr("x", 1047).attr("y", 852).attr("width", 23).attr("height", 20).attr("rx", 2).attr("fill", "#fff").attr("stroke", "#1f222b").attr("stroke-width", 1.2);
icon(1058, 860, "M-11,-3H12 M-6,-11V-6 M6,-11V-6", 1.2);
icon(1058, 908, "M-9,-7C0,-7 7,0 7,8 M-9,-2C-3,-2 2,3 2,8", 1.2);
ring(1051, 915, 1.6, 1, "#1f222b", "#1f222b");
svg.append("rect").attr("x", 1047).attr("y", 888).attr("width", 29).attr("height", 16).attr("rx", 8).attr("fill", "#f23645");
label(1061.5, 900, "99+", 10.5, "#fff", "middle");
icon(1058, 954, "M-8,6C-6,3 -7,-1 -6,-4C-4,-9 4,-9 6,-4C7,-1 6,3 8,6Z M-2,9H2 M-11,6H11", 1.2);
svg.append("rect").attr("x", 1055).attr("y", 934).attr("width", 22).attr("height", 16).attr("rx", 8).attr("fill", "#f23645");
label(1066, 946, "58", 10.5, "#fff", "middle");
ring(1058, 998, 17, 0, "none", "#2b2b2b");
[-6, 0, 6].forEach((a) => {
    [-6, 0, 6].forEach((b) => {
        svg.append("circle").attr("cx", 1058 + a).attr("cy", 998 + b).attr("r", 2.1).attr("fill", "#fff");
    });
});
ring(1058, 1056, 13, 1.2);
label(1058, 1062, "?", 15, "#1f222b", "middle");

// ---- bottom bar
ranges.forEach((t, k) => label(rangeX[k], 1066, t, 13, "#2a2e39", "middle"));
[347.5, 984.5].forEach((v) => {
    svg.append("line").attr("x1", v).attr("x2", v).attr("y1", 1050).attr("y2", 1072).attr("stroke", "#e0e3eb");
});
icon(371, 1061, "M-8,-3V-7H8V8H-2 M-8,-3H8 M-4,-9V-5 M4,-9V-5 M-10,4H-2 M-5,1L-2,4L-5,7", 1.1);
label(974, 1066, "01:26:34 UTC+8", 13, "#2a2e39", "end");
label(1008, 1066, "ADJ", 13, "#2a2e39", "middle");
icon(997, 1027, "M-6,0L-3,-5.5H3L6,0L3,5.5H-3Z", 1.1, "#444");
ring(997, 1027, 1.8, 1, "#444");
</script>
</body>
</html>
